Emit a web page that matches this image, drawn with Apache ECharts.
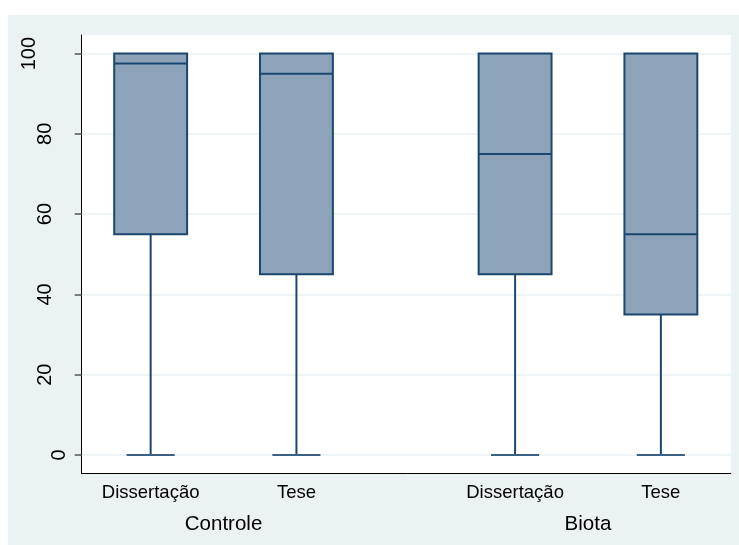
<!DOCTYPE html>
<html>
<head>
<meta charset="utf-8">
<script src="https://cdn.jsdelivr.net/npm/echarts@6/dist/echarts.min.js"></script>
<style>
	html,body{margin:0;padding:0;background:#ffffff;}
	#chart{position:absolute;left:8px;top:15px;width:731px;height:530px;}
</style>
</head>
<body>
<div id="chart"></div>
<script>
const groups = ['Controle', 'Biota']
const categories = ['Dissertação', 'Tese', 'Dissertação', 'Tese']
const groupOf = [0, 0, 1, 1]
const minValues = [0, 0, 0, 0]
const q1Values = [55, 45, 45, 35]
const medianValues = [97.5, 95, 75, 55]
const q3Values = [100, 100, 100, 100]
const maxValues = [100, 100, 100, 100]
const yTicks = [0, 20, 40, 60, 80, 100]

// box slots: one unit inside a group, a wider gap between groups
const slotPos = categories.map((c, i) => 1 + i + groupOf[i] * 0.5)
const groupPos = groups.map((g, gi) => {
	const own = slotPos.filter((p, i) => groupOf[i] === gi)
	return own.reduce((a, b) => a + b, 0) / own.length
})

const boxData = categories.map((c, i) => [slotPos[i], minValues[i], q1Values[i], medianValues[i], q3Values[i], maxValues[i]])

const font = "'Liberation Sans', Arial, sans-serif"
const navy = '#1a476f'
const boxFill = '#8da3b9'

const chart = echarts.init(document.getElementById('chart'))
chart.setOption({
	backgroundColor: '#eaf2f3',
	animation: false,
	grid: {
		left: 73.7,
		right: 8.3,
		top: 20,
		bottom: 71.5,
		show: true,
		backgroundColor: '#ffffff',
		borderWidth: 0
	},
	xAxis: [
		{
			type: 'value',
			min: 0.527,
			max: 4.979,
			axisLine: {show: true, onZero: false, lineStyle: {color: '#000000', width: 1}},
			axisTick: {show: false},
			splitLine: {show: false},
			axisLabel: {
				customValues: slotPos,
				formatter: v => categories[slotPos.indexOf(v)] || '',
				color: '#000000',
				fontFamily: font,
				fontSize: 18.5,
				margin: 10
			}
		},
		{
			type: 'value',
			position: 'bottom',
			offset: 30,
			min: 0.527,
			max: 4.979,
			axisLine: {show: false},
			axisTick: {show: false},
			splitLine: {show: false},
			axisLabel: {
				customValues: groupPos,
				formatter: v => groups[groupPos.indexOf(v)] || '',
				color: '#000000',
				fontFamily: font,
				fontSize: 20.5,
				margin: 10
			}
		}
	],
	yAxis: {
		type: 'value',
		min: -4.63,
		max: 104.63,
		axisLine: {show: true, onZero: false, lineStyle: {color: '#000000', width: 1}},
		axisTick: {
			show: true,
			customValues: yTicks,
			length: 7,
			lineStyle: {color: '#555555', width: 1.5}
		},
		splitLine: {show: true, lineStyle: {color: '#eaf2f3', width: 1.5}},
		axisLabel: {
			customValues: yTicks,
			rotate: 90,
			margin: 12,
			formatter: v => '{d' + String(v).length + '|' + v + '}',
			rich: {
				d1: {fontFamily: font, fontSize: 20, color: '#000000', padding: [0, 0, 0, 0]},
				d2: {fontFamily: font, fontSize: 20, color: '#000000', padding: [0, 0, 14, 0]},
				d3: {fontFamily: font, fontSize: 20, color: '#000000', padding: [0, 0, 30, 0]}
			}
		}
	},
	series: [
		{
			type: 'custom',
			xAxisIndex: 0,
			data: boxData,
			renderItem: (params, api) => {
				const x = api.value(0)
				const boxW = api.size([0.5, 0])[0]
				const capW = api.size([0.33, 0])[0]
				const pMin = api.coord([x, api.value(1)])
				const pQ1 = api.coord([x, api.value(2)])
				const pMed = api.coord([x, api.value(3)])
				const pQ3 = api.coord([x, api.value(4)])
				const pMax = api.coord([x, api.value(5)])
				const cx = pQ1[0]
				const lineStyle = {stroke: navy, lineWidth: 2}
				const capStyle = {stroke: '#3d6185', lineWidth: 2}
				const children = [
					{type: 'line', shape: {x1: cx, y1: pQ1[1], x2: cx, y2: pMin[1]}, style: lineStyle},
					{type: 'line', shape: {x1: cx - capW / 2, y1: pMin[1], x2: cx + capW / 2, y2: pMin[1]}, style: capStyle}
				]
				if (pMax[1] < pQ3[1] - 0.5) {
					children.push({type: 'line', shape: {x1: cx, y1: pQ3[1], x2: cx, y2: pMax[1]}, style: lineStyle})
					children.push({type: 'line', shape: {x1: cx - capW / 2, y1: pMax[1], x2: cx + capW / 2, y2: pMax[1]}, style: capStyle})
				}
				children.push({type: 'rect', z2: 5, shape: {x: cx - boxW / 2, y: pQ3[1], width: boxW, height: pQ1[1] - pQ3[1]}, style: {fill: boxFill, stroke: navy, lineWidth: 2}})
				children.push({type: 'line', z2: 6, shape: {x1: cx - boxW / 2, y1: pMed[1], x2: cx + boxW / 2, y2: pMed[1]}, style: lineStyle})
				return {type: 'group', children: children}
			}
		}
	]
})
</script>
</body>
</html>
